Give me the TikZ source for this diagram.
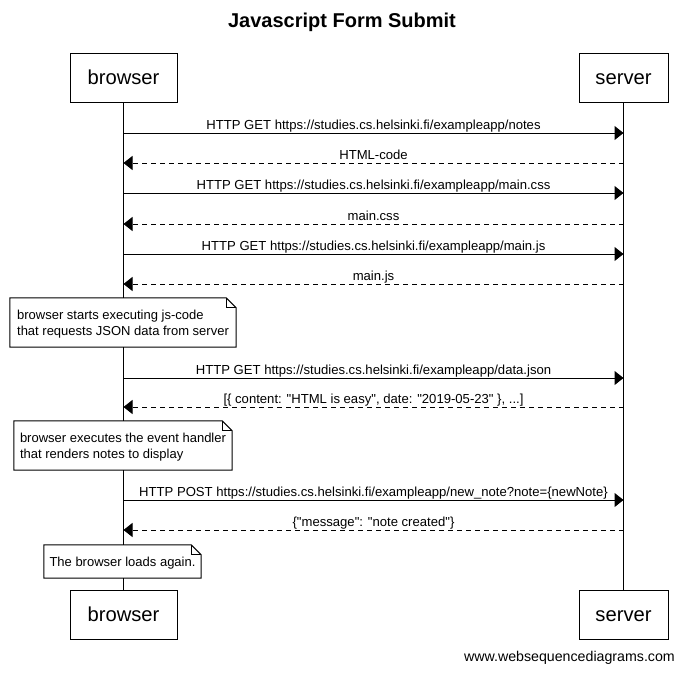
\documentclass[tikz,border=0pt]{standalone}
\usepackage{fontspec}
\newfontfamily\lsans{Liberation Sans}
\usetikzlibrary{arrows.meta}
\begin{document}
\begin{tikzpicture}[x=1pt,y=-1pt,
  every node/.style={font=\lsans},
  actor/.style={draw=black, line width=1pt, fill=white, inner sep=0pt, text height=15pt, text depth=2pt, font=\lsans\fontsize{20.2}{24}\selectfont},
  lifeline/.style={draw=black, line width=1pt},
  msg/.style={draw=black, line width=1pt, -{Triangle[length=9pt,width=14pt]}},
  reply/.style={msg, dash pattern=on 5pt off 4pt},
  msglabel/.style={anchor=base, inner sep=0pt, font=\lsans\fontsize{13.1}{16}\selectfont},
  notebox/.style={inner sep=0pt, fill=white},
  notetext/.style={inner sep=0pt, align=left, font=\lsans\fontsize{13}{16}\selectfont},
  noteline/.style={draw=black, line width=1pt}
]
\useasboundingbox[fill=white] (0,0) rectangle (684,673);

\node[font=\lsans\bfseries\fontsize{20}{24}\selectfont, inner sep=0pt] (title) at (342,22) {Javascript Form Submit};

\node[actor, minimum width=107pt, minimum height=49pt] (bt) at (123.5,77.5) {browser};
\node[actor, minimum width=89pt, minimum height=49pt] (st) at (623.5,77.5) {server};
\node[actor, minimum width=107pt, minimum height=49pt] (bb) at (123.5,614.5) {browser};
\node[actor, minimum width=89pt, minimum height=49pt] (sb) at (623.5,614.5) {server};

\draw[lifeline] (bt.south) -- (bb.north);
\draw[lifeline] (st.south) -- (sb.north);

% message anchors
\foreach \n/\y in {1/133,2/163,3/193,4/224,5/254,6/284,7/378,8/407,9/500,10/530}{
  \coordinate (b\n) at (123.5,\y);
  \coordinate (s\n) at (623.5,\y);
}

\draw[msg] (b1) -- (s1) node[msglabel, midway, yshift=4pt] {HTTP GET https://studies.cs.helsinki.fi/exampleapp/notes};
\draw[reply] (s2) -- (b2) node[msglabel, midway, yshift=4pt] {HTML-code};
\draw[msg] (b3) -- (s3) node[msglabel, midway, yshift=4pt] {HTTP GET https://studies.cs.helsinki.fi/exampleapp/main.css};
\draw[reply] (s4) -- (b4) node[msglabel, midway, yshift=4pt] {main.css};
\draw[msg] (b5) -- (s5) node[msglabel, midway, yshift=4pt] {HTTP GET https://studies.cs.helsinki.fi/exampleapp/main.js};
\draw[reply] (s6) -- (b6) node[msglabel, midway, yshift=4pt] {main.js};
\draw[msg] (b7) -- (s7) node[msglabel, midway, yshift=4pt] {HTTP GET https://studies.cs.helsinki.fi/exampleapp/data.json};
\draw[reply] (s8) -- (b8) node[msglabel, midway, yshift=4pt] {[\{ content: "HTML is easy", date: "2019-05-23" \}, ...]};
\draw[msg] (b9) -- (s9) node[msglabel, midway, yshift=4pt] {HTTP POST https://studies.cs.helsinki.fi/exampleapp/new\_note?note=\{newNote\}};
\draw[reply] (s10) -- (b10) node[msglabel, midway, yshift=4pt] {\{"message": "note created"\}};

% notes
\node[notebox, minimum width=226pt, minimum height=49pt] (n1) at (123,322.5) {};
\node[notebox, minimum width=218pt, minimum height=49pt] (n2) at (123,445.5) {};
\node[notebox, minimum width=157pt, minimum height=33pt] (n3) at (122.5,561.5) {};

\foreach \n in {n1,n2,n3}{
  \draw[noteline] (\n.north west) -- ([xshift=-10pt]\n.north east) -- ([yshift=-10pt]\n.north east) -- (\n.south east) -- (\n.south west) -- cycle;
  \draw[noteline] ([xshift=-10pt]\n.north east) -- ([xshift=-10pt,yshift=-10pt]\n.north east) -- ([yshift=-10pt]\n.north east);
}

\node[notetext, yshift=-2pt] (n1t) at (n1.center) {browser starts executing js-code\\that requests JSON data from server};
\node[notetext, yshift=-2pt] (n2t) at (n2.center) {browser executes the event handler\\that renders notes to display};
\node[notetext, yshift=-2pt] (n3t) at (n3.center) {The browser loads again.};

\node[anchor=east, inner sep=0pt, font=\lsans\fontsize{14.2}{17}\selectfont] (footer) at (675,658) {www.websequencediagrams.com};
\end{tikzpicture}
\end{document}
